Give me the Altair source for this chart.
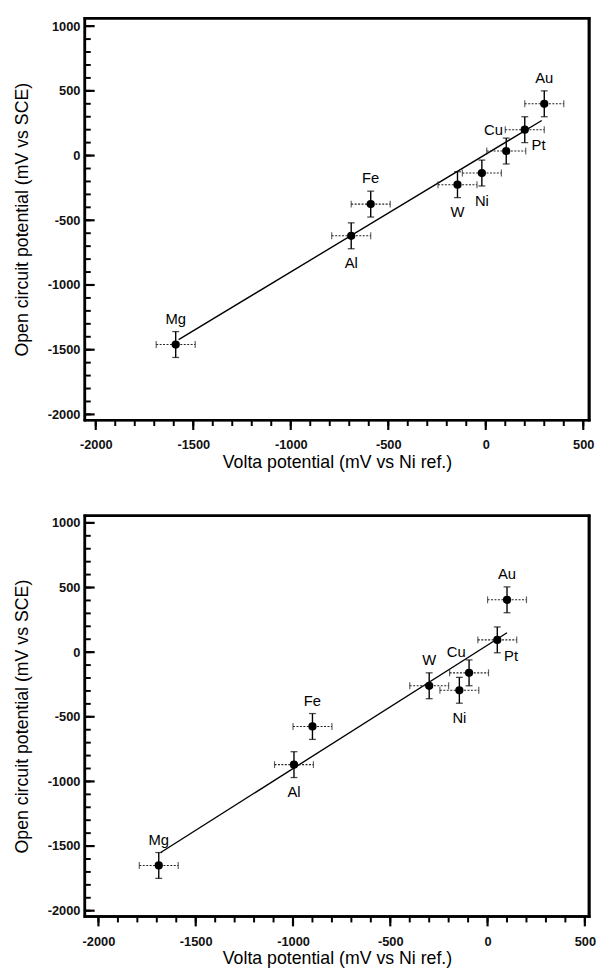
import altair as alt
import pandas as pd

# ---------------- data ----------------
metals = ["Mg", "Al", "Fe", "W", "Ni", "Cu", "Pt", "Au"]

top_volta = [-1590, -690, -590, -145, -20, 105, 200, 300]
top_ocp = [-1460, -620, -375, -225, -135, 35, 200, 400]
top_side = ["above", "below", "above", "below", "below", "upleft", "downright", "above"]
top_fit_volta = [-1575, 287]
top_fit_ocp = [-1422, 271]

bottom_volta = [-1690, -995, -900, -300, -145, -95, 50, 100]
bottom_ocp = [-1650, -870, -575, -260, -295, -160, 95, 405]
bottom_side = ["above", "below", "above", "above", "below", "upleft", "downright", "above"]
bottom_fit_volta = [-1680, 100]
bottom_fit_ocp = [-1550, 150]

volta_err = [100, 100, 100, 100, 100, 100, 100, 100]
ocp_err = [100, 100, 100, 100, 100, 100, 100, 100]

x_major = [-2000, -1500, -1000, -500, 0, 500]
y_major = [-2000, -1500, -1000, -500, 0, 500, 1000]
x_minor = list(range(-2000, 501, 100))
y_minor = list(range(-2000, 1001, 100))

X_TITLE = "Volta potential (mV vs Ni ref.)"
Y_TITLE = "Open circuit potential (mV vs SCE)"
FONT = "Liberation Sans"

SIDE_OFFSETS = {
    "above": (0, -26),
    "below": (0, 28),
    "upleft": (-13, -21),
    "downright": (14, 16),
}

W = 512


def panel(volta, ocp, sides, fit_x, fit_y, xdom, ydom, h):
    df = pd.DataFrame({
        "metal": metals,
        "volta": volta,
        "ocp": ocp,
        "verr": volta_err,
        "oerr": ocp_err,
        "side": sides,
    })
    fit = pd.DataFrame({"volta": fit_x, "ocp": fit_y})

    xs = alt.Scale(domain=xdom, nice=False, zero=False)
    ys = alt.Scale(domain=ydom, nice=False, zero=False)
    xaxis = alt.Axis(
        title=X_TITLE, values=x_major, labelExpr="'' + datum.value",
        ticks=False, tickSize=0, domain=False,
        grid=False, labelFlush=False,
        labelPadding=19, titlePadding=2, labelFont=FONT, titleFont=FONT,
        labelFontSize=13, labelFontWeight="bold", titleFontSize=18, titleFontWeight="normal",
        labelColor="#111", titleColor="black",
    )
    yaxis = alt.Axis(
        title=Y_TITLE, values=y_major, labelExpr="'' + datum.value",
        ticks=False, tickSize=0, domain=False,
        grid=False, labelFlush=False,
        labelPadding=5, titlePadding=16, labelFont=FONT, titleFont=FONT,
        labelFontSize=13, labelFontWeight="bold", titleFontSize=18, titleFontWeight="normal",
        labelColor="#111", titleColor="black",
    )

    def X(field):
        return alt.X(field, type="quantitative", scale=xs, axis=xaxis)

    def Y(field):
        return alt.Y(field, type="quantitative", scale=ys, axis=yaxis)

    base = alt.Chart(df).transform_calculate(
        vlo="datum.volta - datum.verr", vhi="datum.volta + datum.verr",
        olo="datum.ocp - datum.oerr", ohi="datum.ocp + datum.oerr",
    )

    line = alt.Chart(fit).mark_line(color="black", strokeWidth=1.4).encode(
        x=X("volta"), y=Y("ocp"))

    hbar = base.mark_errorbar(
        color="#222", ticks={"size": 7, "thickness": 1.2},
        rule={"strokeDash": [2, 1.5], "strokeWidth": 1.1},
    ).encode(x=X("vlo"), x2="vhi:Q", y=Y("ocp"))

    vbar = base.mark_errorbar(
        color="black", ticks={"size": 7, "thickness": 1.3},
        rule={"strokeWidth": 1.4},
    ).encode(y=Y("olo"), y2="ohi:Q", x=X("volta"))

    pts = base.mark_point(filled=True, shape="circle", size=70, color="black", opacity=1).encode(
        x=X("volta"), y=Y("ocp"))

    labels = []
    for side, (dx, dy) in SIDE_OFFSETS.items():
        labels.append(
            base.transform_filter(alt.datum.side == side).mark_text(
                font=FONT, fontSize=15, color="black", dx=dx, dy=dy,
                align="center", baseline="middle",
            ).encode(x=X("volta"), y=Y("ocp"), text="metal:N")
        )

    xmin = alt.Chart(pd.DataFrame({"v": x_minor})).mark_rule(color="black", strokeWidth=2).encode(
        x=X("v"), y=alt.value(h), y2=alt.value(h + 6))
    xmaj = alt.Chart(pd.DataFrame({"v": x_major})).mark_rule(color="black", strokeWidth=2.2).encode(
        x=X("v"), y=alt.value(h), y2=alt.value(h + 10))
    ymin = alt.Chart(pd.DataFrame({"v": y_minor})).mark_rule(color="black", strokeWidth=2).encode(
        y=Y("v"), x=alt.value(0), x2=alt.value(6))
    ymaj = alt.Chart(pd.DataFrame({"v": y_major})).mark_rule(color="black", strokeWidth=2.2).encode(
        y=Y("v"), x=alt.value(0), x2=alt.value(10))

    # frame drawn as four thin filled bands around the plot area
    one = pd.DataFrame({"v": [0]})
    bands = [
        (-1.2, W + 1.2, -1.2, 1.2),          # top
        (-1.2, W + 1.5, h - 1.2, h + 1.3),   # bottom
        (-1.3, 1.3, -1.2, h + 1.3),          # left
        (W - 1.5, W + 1.5, -1.2, h + 1.3),   # right
    ]
    frame = [
        alt.Chart(one).mark_rect(color="black", opacity=1).encode(
            x=alt.value(x0), x2=alt.value(x1), y=alt.value(y0), y2=alt.value(y1))
        for (x0, x1, y0, y1) in bands
    ]

    return alt.layer(line, hbar, vbar, pts, *labels, xmin, xmaj, ymin, ymaj,
                     *frame).properties(width=W, height=h)


top = panel(top_volta, top_ocp, top_side, top_fit_volta, top_fit_ocp,
            [-2056, 530], [-2044, 1061], 408)
bottom = panel(bottom_volta, bottom_ocp, bottom_side, bottom_fit_volta, bottom_fit_ocp,
               [-2070, 522], [-2045, 1056], 407)

chart = alt.vconcat(top, bottom, spacing=40).properties(
    padding={"left": 4, "top": 0, "right": 0, "bottom": 0},
    background="white",
).configure_view(stroke="black", strokeWidth=2.5)

chart.save("out.html", embed_options={"renderer": "svg", "actions": False})
